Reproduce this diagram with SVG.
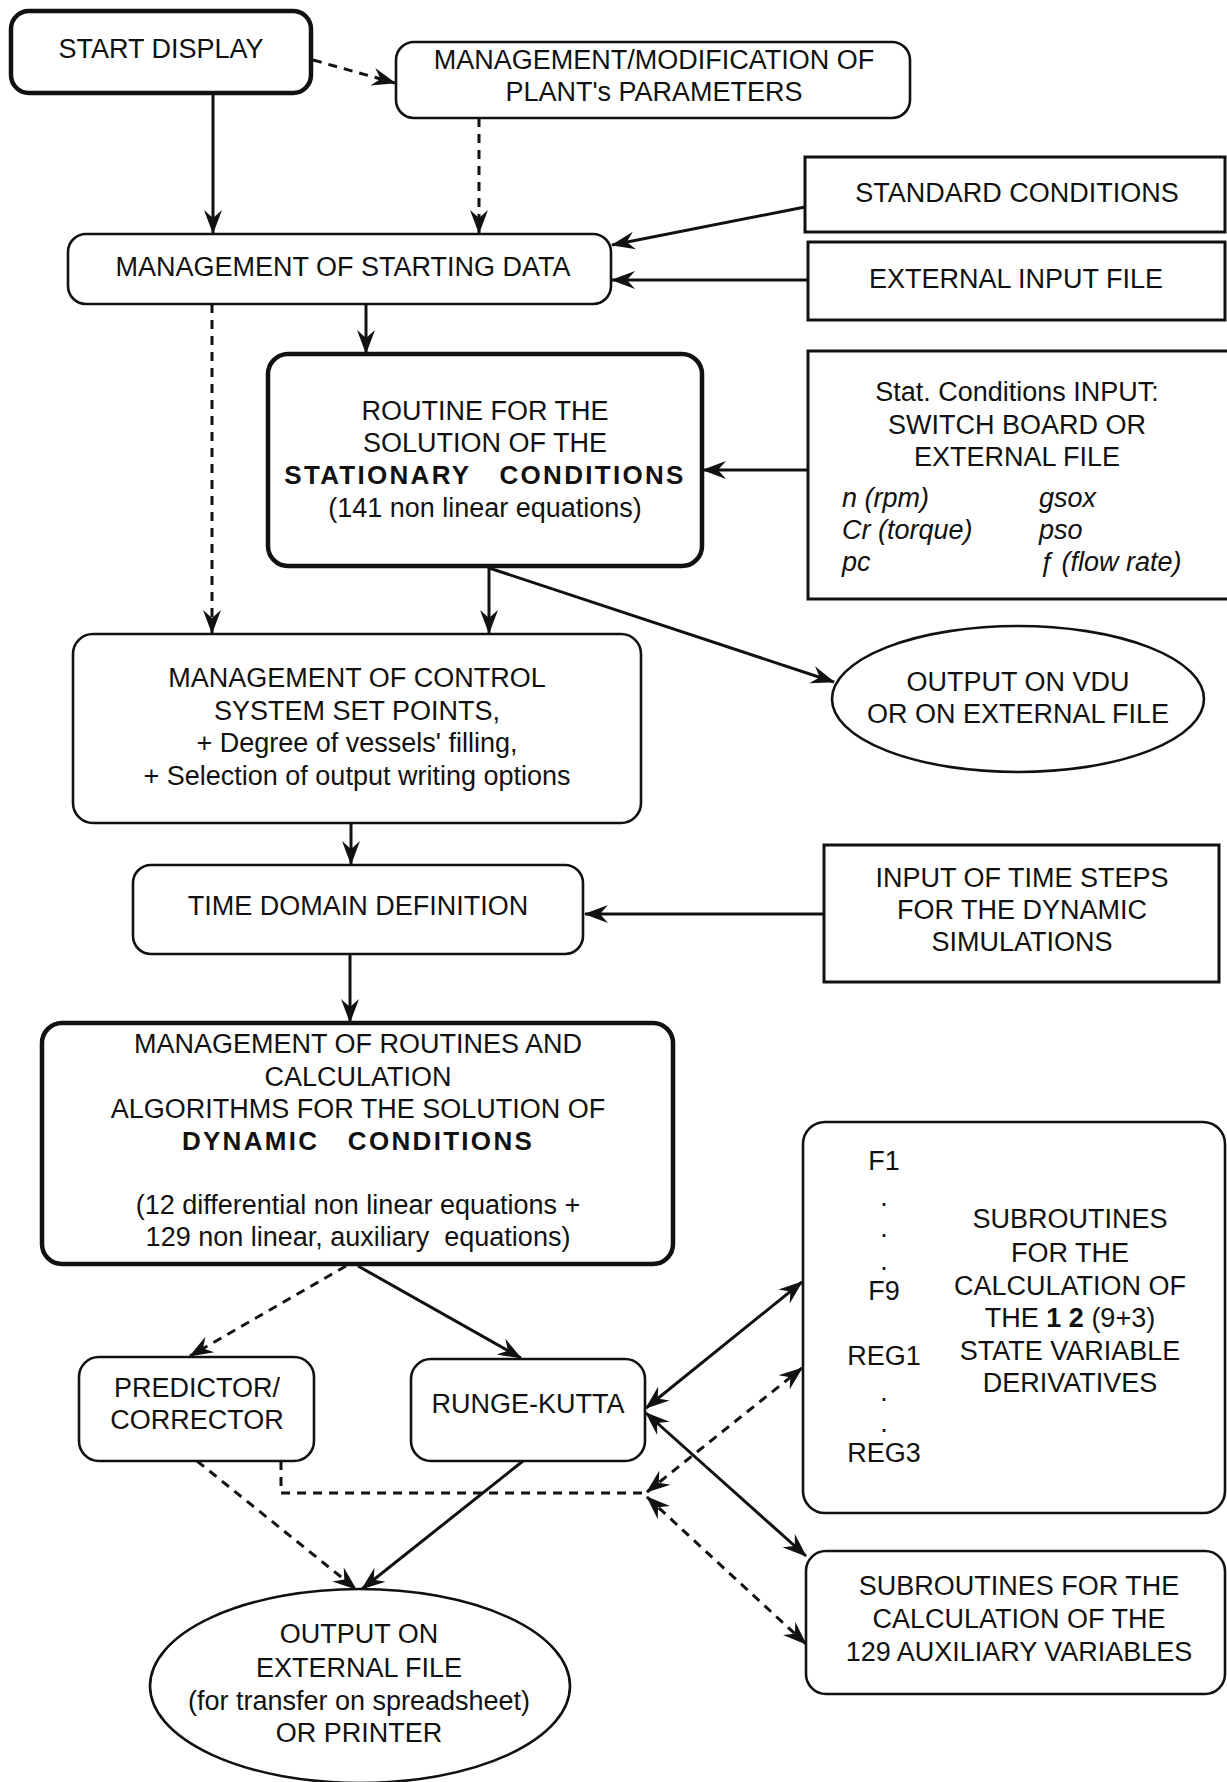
<svg xmlns="http://www.w3.org/2000/svg" width="1227" height="1782" viewBox="0 0 1227 1782">
<defs>
<style>
text{font-family:"Liberation Sans",Arial,Helvetica,sans-serif;font-size:27px;fill:#111;text-anchor:middle}
.b{font-weight:bold;font-size:26px;letter-spacing:2.3px}
.it{font-style:italic;text-anchor:start}
.box{fill:#fff;stroke:#111;stroke-width:2.6}
.thick{fill:#fff;stroke:#111;stroke-width:4.5}
.sq{fill:#fff;stroke:#111;stroke-width:3}
.c{fill:none;stroke:#111;stroke-width:3}
.d{fill:none;stroke:#111;stroke-width:3;stroke-dasharray:9 7}
.e{marker-end:url(#ah)}
.s{marker-start:url(#ah)}
</style>
<marker id="ah" viewBox="0 0 24 20" refX="23" refY="10" markerWidth="24" markerHeight="20" markerUnits="userSpaceOnUse" orient="auto-start-reverse">
<path d="M24,10 L0,1 L8,10 L0,19 Z" fill="#111"/>
</marker>
</defs>
<rect width="1227" height="1782" fill="#fff"/>

<g id="connectors">
<line class="c e" x1="213" y1="93" x2="213" y2="233"/>
<line class="d e" x1="313" y1="60" x2="395" y2="83"/>
<line class="d e" x1="479" y1="118" x2="479" y2="233"/>
<line class="c e" x1="805" y1="207" x2="612" y2="245"/>
<line class="c e" x1="808" y1="280" x2="612" y2="280"/>
<line class="c e" x1="366" y1="304" x2="366" y2="353"/>
<line class="d e" x1="212" y1="304" x2="212" y2="633"/>
<line class="c e" x1="808" y1="470" x2="703" y2="470"/>
<line class="c e" x1="489" y1="566" x2="489" y2="633"/>
<line class="c e" x1="489" y1="568" x2="834" y2="682"/>
<line class="c e" x1="351" y1="822" x2="351" y2="864"/>
<line class="c e" x1="824" y1="914" x2="585" y2="914"/>
<line class="c e" x1="350" y1="954" x2="350" y2="1022"/>
<line class="d e" x1="346" y1="1266" x2="190" y2="1356"/>
<line class="c e" x1="358" y1="1266" x2="521" y2="1358"/>
<line class="c e s" x1="646" y1="1408" x2="802" y2="1282"/>
<line class="c e s" x1="646" y1="1413" x2="806" y2="1556"/>
<line class="d e s" x1="647" y1="1492" x2="802" y2="1368"/>
<line class="d e s" x1="647" y1="1497" x2="806" y2="1644"/>
<polyline class="d" points="281,1461 281,1493 642,1493"/>
<line class="d e" x1="197" y1="1461" x2="356" y2="1589"/>
<line class="c e" x1="523" y1="1461" x2="362" y2="1589"/>
</g>

<g id="start-display">
<rect class="thick" x="11" y="11" width="300" height="82" rx="18"/>
<text x="161" y="58">START DISPLAY</text>
</g>

<g id="plant-parameters">
<rect class="box" x="396" y="42" width="514" height="76" rx="18"/>
<text x="654" y="69">MANAGEMENT/MODIFICATION OF</text>
<text x="654" y="101">PLANT's PARAMETERS</text>
</g>

<g id="standard-conditions">
<rect class="sq" x="805" y="157" width="420" height="75"/>
<text x="1017" y="202">STANDARD CONDITIONS</text>
</g>

<g id="external-input-file">
<rect class="sq" x="808" y="242" width="417" height="78"/>
<text x="1016" y="288">EXTERNAL INPUT FILE</text>
</g>

<g id="starting-data">
<rect class="box" x="68" y="234" width="543" height="70" rx="18"/>
<text x="343" y="276">MANAGEMENT OF STARTING DATA</text>
</g>

<g id="stationary-routine">
<rect class="thick" x="268" y="354" width="434" height="212" rx="20"/>
<text x="485" y="420">ROUTINE FOR THE</text>
<text x="485" y="452">SOLUTION OF THE</text>
<text x="485" y="484" class="b" xml:space="preserve">STATIONARY   CONDITIONS</text>
<text x="485" y="517">(141 non linear equations)</text>
</g>

<g id="stat-input">
<rect class="sq" x="808" y="351" width="425" height="248"/>
<text x="1017" y="401">Stat. Conditions INPUT:</text>
<text x="1017" y="434">SWITCH BOARD OR</text>
<text x="1017" y="466">EXTERNAL FILE</text>
<text x="842" y="507" class="it">n (rpm)</text>
<text x="842" y="539" class="it">Cr (torque)</text>
<text x="842" y="571" class="it">pc</text>
<text x="1039" y="507" class="it">gsox</text>
<text x="1039" y="539" class="it">pso</text>
<text x="1039" y="571" class="it">ƒ (flow rate)</text>
</g>

<g id="control-set-points">
<rect class="box" x="73" y="634" width="568" height="189" rx="20"/>
<text x="357" y="687">MANAGEMENT OF CONTROL</text>
<text x="357" y="720">SYSTEM SET POINTS,</text>
<text x="357" y="752">+ Degree of vessels' filling,</text>
<text x="357" y="785">+ Selection of output writing options</text>
</g>

<g id="output-vdu">
<ellipse class="box" cx="1018" cy="699" rx="186" ry="73"/>
<text x="1018" y="691">OUTPUT ON VDU</text>
<text x="1018" y="723">OR ON EXTERNAL FILE</text>
</g>

<g id="time-domain">
<rect class="box" x="133" y="865" width="450" height="89" rx="18"/>
<text x="358" y="915">TIME DOMAIN DEFINITION</text>
</g>

<g id="time-steps-input">
<rect class="sq" x="824" y="845" width="395" height="137"/>
<text x="1022" y="887">INPUT OF TIME STEPS</text>
<text x="1022" y="919">FOR THE DYNAMIC</text>
<text x="1022" y="951">SIMULATIONS</text>
</g>

<g id="dynamic-routines">
<rect class="thick" x="42" y="1023" width="631" height="241" rx="20"/>
<text x="358" y="1053">MANAGEMENT OF ROUTINES AND</text>
<text x="358" y="1086">CALCULATION</text>
<text x="358" y="1118">ALGORITHMS FOR THE SOLUTION OF</text>
<text x="358" y="1150" class="b" xml:space="preserve">DYNAMIC   CONDITIONS</text>
<text x="358" y="1214">(12 differential non linear equations +</text>
<text x="358" y="1246" xml:space="preserve">129 non linear, auxiliary  equations)</text>
</g>

<g id="state-derivatives">
<rect class="box" x="803" y="1122" width="422" height="391" rx="22"/>
<text x="884" y="1170">F1</text>
<text x="884" y="1206">.</text>
<text x="884" y="1237">.</text>
<text x="884" y="1270">.</text>
<text x="884" y="1300">F9</text>
<text x="884" y="1365">REG1</text>
<text x="884" y="1401">.</text>
<text x="884" y="1432">.</text>
<text x="884" y="1462">REG3</text>
<text x="1070" y="1228">SUBROUTINES</text>
<text x="1070" y="1262">FOR THE</text>
<text x="1070" y="1295">CALCULATION OF</text>
<text x="1070" y="1327">THE <tspan font-weight="bold">1 2</tspan> (9+3)</text>
<text x="1070" y="1360">STATE VARIABLE</text>
<text x="1070" y="1392">DERIVATIVES</text>
</g>

<g id="predictor-corrector">
<rect class="box" x="79" y="1357" width="235" height="104" rx="20"/>
<text x="197" y="1397">PREDICTOR/</text>
<text x="197" y="1429">CORRECTOR</text>
</g>

<g id="runge-kutta">
<rect class="box" x="411" y="1359" width="234" height="102" rx="20"/>
<text x="528" y="1413">RUNGE-KUTTA</text>
</g>

<g id="auxiliary-variables">
<rect class="box" x="806" y="1551" width="419" height="143" rx="20"/>
<text x="1019" y="1595">SUBROUTINES FOR THE</text>
<text x="1019" y="1628">CALCULATION OF THE</text>
<text x="1019" y="1661">129 AUXILIARY VARIABLES</text>
</g>

<g id="output-file-printer">
<ellipse class="box" cx="360" cy="1686" rx="210" ry="97"/>
<text x="359" y="1643">OUTPUT ON</text>
<text x="359" y="1677">EXTERNAL FILE</text>
<text x="359" y="1710">(for transfer on spreadsheet)</text>
<text x="359" y="1742">OR PRINTER</text>
</g>
</svg>
